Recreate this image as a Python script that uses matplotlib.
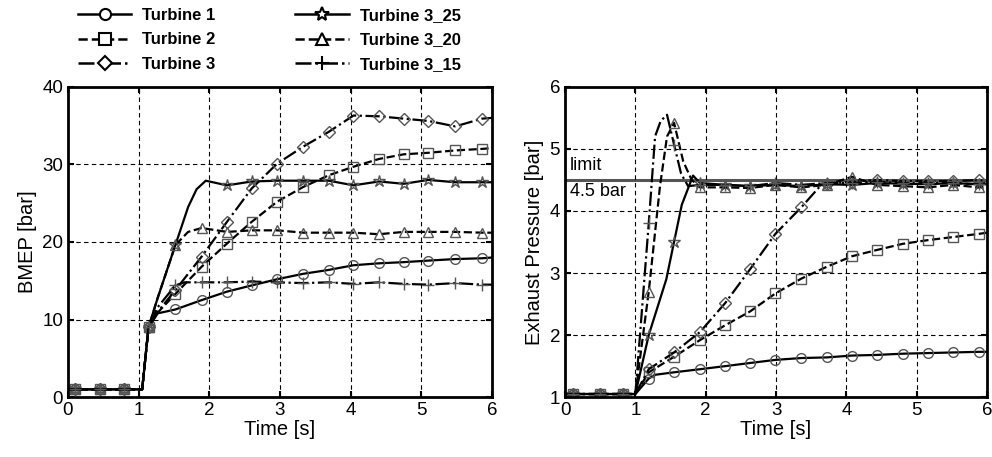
import matplotlib
matplotlib.use('Agg')
import matplotlib.pyplot as plt
import numpy as np

plt.rcParams['font.family'] = ['Liberation Sans', 'DejaVu Sans']

names = ['Turbine 1', 'Turbine 2', 'Turbine 3', 'Turbine 3_25', 'Turbine 3_20', 'Turbine 3_15']
styles = ['-', '--', '-.', '-', '--', '-.']
marks = ['o', 's', 'D', '*', '^', '+']
msizes = [7, 7, 6, 9, 7, 9]

# --- BMEP panel ---
tm_l = [0.1, 0.45, 0.8, 1.14, 1.52, 1.89, 2.25, 2.6, 2.96, 3.33, 3.69, 4.04, 4.4, 4.75, 5.1, 5.48, 5.86]
start_t_l = [0.0, 0.1, 0.45, 0.8, 1.05, 1.14]
start_v_l = [1.0, 1.0, 1.0, 1.0, 1.0, 9.0]

bmep_t1_t = [1.27, 1.52, 1.89, 2.25, 2.6, 2.96, 3.33, 3.69, 4.04, 4.4, 4.75, 5.1, 5.48, 5.86, 6.0]
bmep_t1_v = [10.8, 11.3, 12.5, 13.6, 14.4, 15.2, 15.9, 16.4, 17.0, 17.25, 17.4, 17.6, 17.8, 17.9, 18.0]
bmep_t2_t = [1.27, 1.52, 1.89, 2.25, 2.6, 2.96, 3.33, 3.69, 4.04, 4.4, 4.75, 5.1, 5.48, 5.86, 6.0]
bmep_t2_v = [10.9, 13.3, 16.8, 19.8, 22.6, 25.2, 27.1, 28.6, 29.7, 30.7, 31.3, 31.5, 31.8, 32.0, 32.1]
bmep_t3_t = [1.27, 1.52, 1.89, 2.25, 2.6, 2.96, 3.33, 3.69, 4.04, 4.4, 4.75, 5.1, 5.48, 5.86, 6.0]
bmep_t3_v = [11.0, 13.8, 18.1, 22.6, 26.9, 30.1, 32.3, 34.2, 36.3, 36.2, 35.9, 35.6, 34.9, 35.9, 36.0]
bmep_325_t = [1.27, 1.52, 1.7, 1.82, 1.95, 2.25, 2.6, 2.96, 3.33, 3.69, 4.04, 4.4, 4.75, 5.1, 5.48, 5.86, 6.0]
bmep_325_v = [12.8, 19.6, 24.5, 26.8, 27.9, 27.3, 27.8, 27.9, 27.9, 27.9, 27.3, 27.8, 27.5, 28.0, 27.7, 27.7, 27.7]
bmep_320_t = [1.27, 1.52, 1.7, 1.89, 2.25, 2.6, 2.96, 3.33, 3.69, 4.04, 4.4, 4.75, 5.1, 5.48, 5.86, 6.0]
bmep_320_v = [12.8, 19.6, 21.3, 21.8, 21.3, 21.5, 21.5, 21.2, 21.2, 21.2, 21.0, 21.3, 21.3, 21.3, 21.2, 21.2]
bmep_315_t = [1.27, 1.52, 1.65, 1.89, 2.25, 2.6, 2.96, 3.33, 3.69, 4.04, 4.4, 4.75, 5.1, 5.48, 5.86, 6.0]
bmep_315_v = [11.6, 14.4, 14.8, 14.8, 14.8, 14.9, 14.8, 14.7, 14.8, 14.6, 14.8, 14.6, 14.5, 14.7, 14.5, 14.5]

# --- exhaust pressure panel ---
tm_r = [0.12, 0.5, 0.83, 1.19, 1.55, 1.92, 2.28, 2.63, 2.99, 3.36, 3.72, 4.08, 4.43, 4.8, 5.16, 5.52, 5.88]
start_t_r = [0.0, 0.12, 0.5, 0.83, 1.0]
start_v_r = [1.05, 1.05, 1.05, 1.05, 1.05]

pex_t1_t = [1.19, 1.28, 1.55, 1.92, 2.28, 2.63, 2.99, 3.36, 3.72, 4.08, 4.43, 4.8, 5.16, 5.52, 5.88, 6.0]
pex_t1_v = [1.30, 1.36, 1.40, 1.45, 1.50, 1.55, 1.60, 1.63, 1.64, 1.67, 1.68, 1.70, 1.71, 1.72, 1.73, 1.73]
pex_t2_t = [1.19, 1.55, 1.92, 2.28, 2.63, 2.99, 3.36, 3.72, 4.08, 4.43, 4.8, 5.16, 5.52, 5.88, 6.0]
pex_t2_v = [1.40, 1.65, 1.92, 2.16, 2.38, 2.67, 2.91, 3.10, 3.27, 3.37, 3.47, 3.53, 3.58, 3.63, 3.65]
pex_t3_t = [1.19, 1.55, 1.92, 2.28, 2.63, 2.99, 3.36, 3.65, 3.72, 4.08, 4.43, 4.8, 5.16, 5.52, 5.88, 6.0]
pex_t3_v = [1.45, 1.72, 2.05, 2.52, 3.06, 3.63, 4.06, 4.43, 4.44, 4.47, 4.50, 4.48, 4.48, 4.48, 4.50, 4.48]
pex_325_t = [1.19, 1.44, 1.55, 1.66, 1.82, 1.92, 2.28, 2.63, 2.99, 3.36, 3.72, 4.08, 4.43, 4.8, 5.16, 5.52, 5.88, 6.0]
pex_325_v = [2.0, 2.9, 3.5, 4.1, 4.57, 4.45, 4.42, 4.40, 4.42, 4.40, 4.43, 4.42, 4.45, 4.44, 4.43, 4.45, 4.43, 4.43]
pex_320_t = [1.19, 1.35, 1.45, 1.55, 1.68, 1.8, 1.92, 2.28, 2.63, 2.99, 3.36, 3.72, 4.08, 4.43, 4.8, 5.16, 5.52, 5.88, 6.0]
pex_320_v = [2.7, 4.4, 5.2, 5.42, 4.8, 4.5, 4.38, 4.38, 4.37, 4.42, 4.38, 4.42, 4.55, 4.42, 4.40, 4.38, 4.42, 4.38, 4.40]
pex_315_t = [1.19, 1.28, 1.36, 1.45, 1.55, 1.65, 1.75, 1.92, 2.28, 2.63, 2.99, 3.36, 3.72, 4.08, 4.43, 4.8, 5.16, 5.52, 5.88, 6.0]
pex_315_v = [3.8, 5.2, 5.45, 5.55, 5.07, 4.6, 4.4, 4.42, 4.42, 4.40, 4.45, 4.42, 4.45, 4.45, 4.47, 4.45, 4.45, 4.45, 4.43, 4.45]

limit = 4.5

left_series = [(bmep_t1_t, bmep_t1_v), (bmep_t2_t, bmep_t2_v), (bmep_t3_t, bmep_t3_v),
               (bmep_325_t, bmep_325_v), (bmep_320_t, bmep_320_v), (bmep_315_t, bmep_315_v)]
right_series = [(pex_t1_t, pex_t1_v), (pex_t2_t, pex_t2_v), (pex_t3_t, pex_t3_v),
                (pex_325_t, pex_325_v), (pex_320_t, pex_320_v), (pex_315_t, pex_315_v)]


def draw(ax, series, st, sv, tm):
    for (t, v), ls, mk, ms in zip(series, styles, marks, msizes):
        tt = np.array(st + t)
        vv = np.array(sv + v)
        idx = np.where(np.isin(np.round(tt, 2), np.round(tm, 2)))[0]
        ax.plot(tt, vv, ls=ls, color='black', lw=1.6, marker=mk, ms=ms,
                mfc='none', mec='#555555', mew=1.0, markevery=list(idx))


def style(ax, ylim, yticks, ylabel):
    ax.set_xlim(0, 6)
    ax.set_ylim(*ylim)
    ax.set_xticks(range(7))
    ax.set_yticks(yticks)
    ax.grid(True, color='black', ls=(0, (4, 3)), lw=0.8)
    for s in ax.spines.values():
        s.set_linewidth(2.0)
    ax.tick_params(direction='in', length=4, width=1.5, labelsize=13.5, top=True, right=True)
    ax.set_xlabel('Time [s]', fontsize=14.5, labelpad=1)
    ax.set_ylabel(ylabel, fontsize=14.5, labelpad=4)


fig = plt.figure(figsize=(9.92, 4.57), dpi=100)
ax1 = fig.add_axes([0.0685, 0.131, 0.4275, 0.679])
ax2 = fig.add_axes([0.5696, 0.131, 0.4254, 0.679])

draw(ax1, left_series, start_t_l, start_v_l, tm_l)
draw(ax2, right_series, start_t_r, start_v_r, tm_r)

style(ax1, (0, 40), [0, 10, 20, 30, 40], 'BMEP [bar]')
style(ax2, (1, 6), [1, 2, 3, 4, 5, 6], 'Exhaust Pressure [bar]')

ax2.axhline(limit, color='#555555', lw=2.2, zorder=1)
ax2.text(0.07, limit + 0.1, 'limit', fontsize=13, va='bottom')
ax2.text(0.07, limit - 0.05, '4.5 bar', fontsize=13, va='top')

leg_handles = []
for ls, mk, ms in zip(styles, marks, msizes):
    h, = ax1.plot([], [], ls=ls, color='black', lw=1.8, marker=mk, ms=ms + 1,
                  mfc='white', mec='black', mew=1.5)
    leg_handles.append(h)
fig.legend(leg_handles, names, loc='upper left', bbox_to_anchor=(0.0786, 0.983), ncol=2,
           frameon=False, prop={'weight': 'bold', 'size': 12}, handlelength=3.2,
           columnspacing=4.8, labelspacing=0.58, handletextpad=0.65,
           borderpad=0, borderaxespad=0)

fig.savefig('out.png', dpi=100, facecolor='white')
